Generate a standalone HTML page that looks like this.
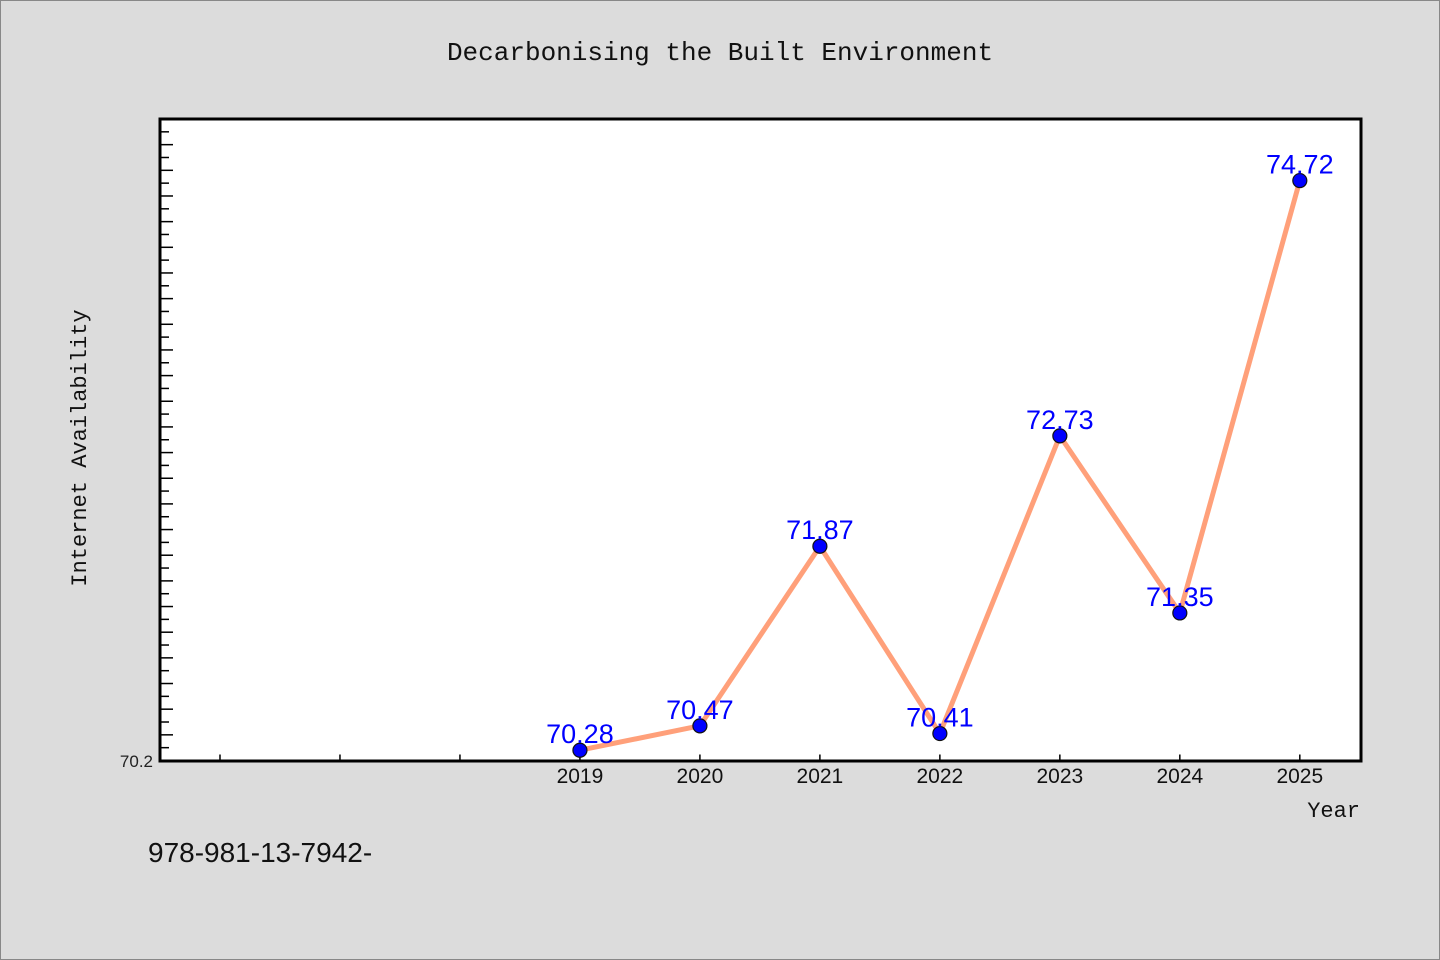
<!DOCTYPE html>
<html><head><meta charset="utf-8"><style>
html,body{margin:0;padding:0;background:#dcdcdc;}
svg{display:block;}
</style></head><body>
<svg id="chart" width="1440" height="960" xmlns="http://www.w3.org/2000/svg">
<rect x="0.5" y="0.5" width="1439" height="959" fill="#dcdcdc" stroke="#888"/>
<text x="720" y="60" text-anchor="middle" font-family="Liberation Mono, monospace" font-size="26" fill="#111">Decarbonising the Built Environment</text>
<rect x="160" y="119" width="1201" height="642" fill="#fff"/>
<g id="ticks"></g>
<g id="series"></g>
<rect x="160" y="119" width="1201" height="642" fill="none" stroke="#000" stroke-width="3"/>
<text x="86" y="448" text-anchor="middle" transform="rotate(-90 86 448)" font-family="Liberation Mono, monospace" font-size="22" fill="#111">Internet Availability</text>
<text x="1360" y="817" text-anchor="end" font-family="Liberation Mono, monospace" font-size="22" fill="#111">Year</text>
<text x="148" y="862" font-family="Liberation Sans, sans-serif" font-size="28" fill="#111">978-981-13-7942-</text>
</svg>
<script>
const years = [2019, 2020, 2021, 2022, 2023, 2024, 2025];
const values = [70.28, 70.47, 71.87, 70.41, 72.73, 71.35, 74.72];
const valueLabels = ["70.28", "70.47", "71.87", "70.41", "72.73", "71.35", "74.72"];
const yTickLabel = "70.2";
const NS = "http://www.w3.org/2000/svg";
const xMin = 2015.5, xMax = 2025.51, yMin = 70.2, yMax = 75.2;
const L = 160, R = 1361, T = 119, B = 760.5;
const xs = v => L + (v - xMin) / (xMax - xMin) * (R - L);
const ys = v => B - (v - yMin) / (yMax - yMin) * (B - T);
function mk(tag, attrs, parent) { const e = document.createElementNS(NS, tag); for (const k in attrs) e.setAttribute(k, attrs[k]); parent.appendChild(e); return e; }
const tg = document.getElementById('ticks');
for (let i = 1; i <= 50; i++) {
  const v = yMin + i * 0.1; const y = ys(v);
  if (y < T + 2) break;
  const t = mk('line', {x1: L, x2: L + (i % 2 === 0 ? 13 : 9), y1: y, y2: y, stroke: '#000', 'stroke-width': 1.5}, tg);
  
  
}
const yl = mk('text', {x: 153, y: 767, 'text-anchor': 'end', 'font-family': 'Liberation Sans, sans-serif', 'font-size': 17, fill: '#222'}, tg);
yl.textContent = yTickLabel;


for (let yr = 2016; yr <= 2025; yr++) {
  const x = xs(yr);
  const t = mk('line', {x1: x, x2: x, y1: B, y2: B - 6, stroke: '#000', 'stroke-width': 1.5}, tg);
  
  
}
years.forEach(yr => {
  const t = mk('text', {x: xs(yr), y: 783, 'text-anchor': 'middle', 'font-family': 'Liberation Sans, sans-serif', 'font-size': 21, fill: '#111'}, tg);
  t.textContent = yr;
  
  
});
const sg = document.getElementById('series');
const pts = years.map((yr, i) => xs(yr) + ',' + ys(values[i])).join(' ');
const line = mk('polyline', {points: pts, fill: 'none', stroke: '#ffa07a', 'stroke-width': 5, 'stroke-linejoin': 'round'}, sg);


years.forEach((yr, i) => {
  const c = mk('circle', {cx: xs(yr), cy: ys(values[i]), r: 7, fill: '#0000ff', stroke: '#111', 'stroke-width': 1.2}, sg);
  
  
  const t = mk('text', {x: xs(yr), y: ys(values[i]) - 7, 'text-anchor': 'middle', 'font-family': 'Liberation Sans, sans-serif', 'font-size': 27, fill: '#0000ff'}, sg);
  t.textContent = valueLabels[i];
  
  
});
</script>
</body></html>
